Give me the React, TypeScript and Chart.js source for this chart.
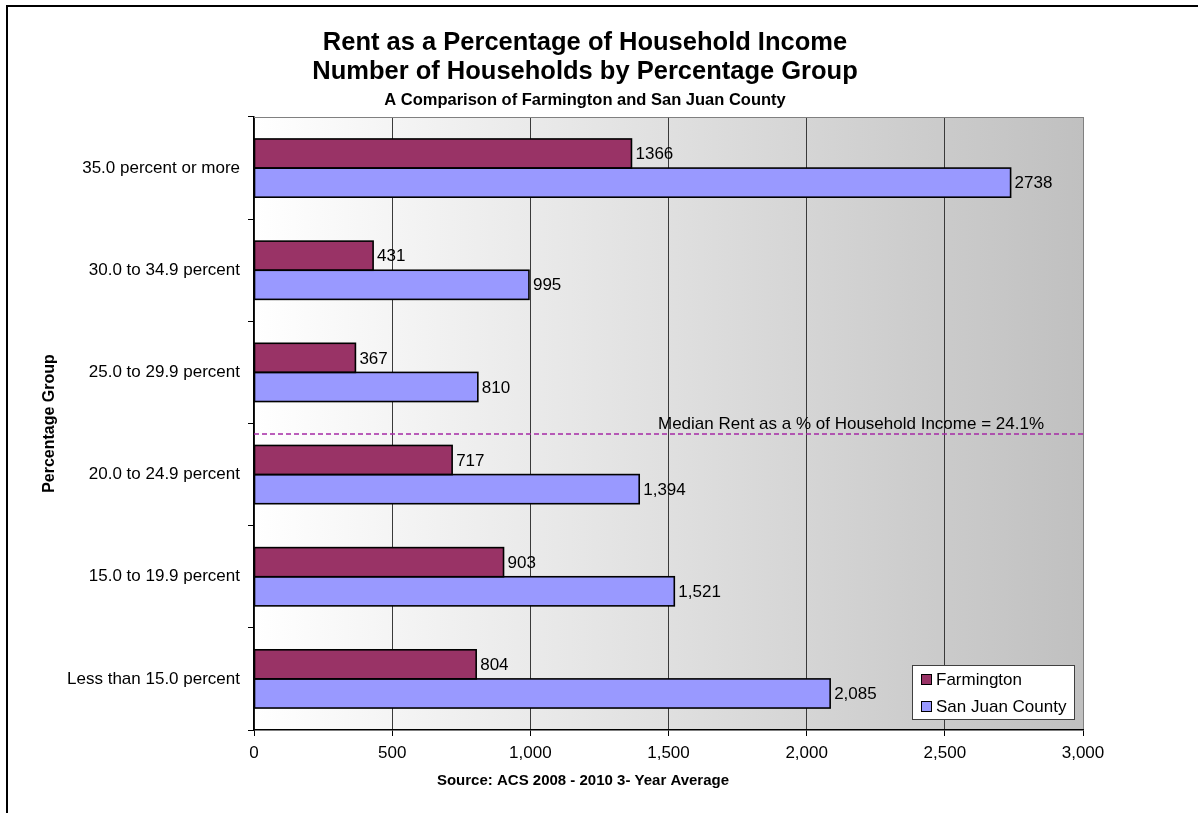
import React, { useEffect, useRef } from 'react';
import { Chart, registerables } from 'chart.js';

Chart.register(...registerables);

const categories = [
  '35.0 percent or more',
  '30.0 to 34.9 percent',
  '25.0 to 29.9 percent',
  '20.0 to 24.9 percent',
  '15.0 to 19.9 percent',
  'Less than 15.0 percent',
];
const farmington = [1366, 431, 367, 717, 903, 804];
const sanJuan = [2738, 995, 810, 1394, 1521, 2085];
const farmingtonLabels = ['1366', '431', '367', '717', '903', '804'];
const sanJuanLabels = ['2738', '995', '810', '1,394', '1,521', '2,085'];
const seriesNames = ['Farmington', 'San Juan County'];
const seriesColors = ['#993366', '#9999ff'];
const xMin = 0;
const xMax = 3000;
const xStep = 500;
const titleLines = ['Rent as a Percentage of Household Income', 'Number of Households by Percentage Group'];
const subtitle = 'A Comparison of Farmington and San Juan County';
const xTitle = 'Source: ACS 2008 - 2010 3- Year Average';
const yTitle = 'Percentage Group';
const medianText = 'Median Rent as a % of Household Income = 24.1%';
const medianCategoryPosition = 2.6;

const FONT = "'Liberation Sans', Arial, Helvetica, sans-serif";
const TEXT_SIZE = 17;

const drawPlugin = {
  id: 'excelStyle',
  beforeDraw(chart: any) {
    const { ctx, chartArea: a } = chart;
    ctx.save();
    ctx.fillStyle = '#ffffff';
    ctx.fillRect(0, 0, chart.width, chart.height);
    const g = ctx.createLinearGradient(a.left, 0, a.right, 0);
    g.addColorStop(0, '#ffffff');
    g.addColorStop(1, '#c0c0c0');
    ctx.fillStyle = g;
    ctx.fillRect(a.left, a.top, a.right - a.left, a.bottom - a.top);
    ctx.restore();
  },
  afterDatasetsDraw(chart: any) {
    const { ctx, chartArea: a } = chart;
    ctx.save();
    // top border of plot
    ctx.strokeStyle = '#808080';
    ctx.lineWidth = 1;
    ctx.beginPath();
    ctx.moveTo(a.left, a.top + 0.5);
    ctx.lineTo(a.right, a.top + 0.5);
    ctx.stroke();

    // bar outlines (centred on the edges, like the original)
    ctx.strokeStyle = '#000';
    ctx.lineWidth = 1.6;
    chart.data.datasets.forEach((_: any, di: number) => {
      const meta = chart.getDatasetMeta(di);
      meta.data.forEach((el: any) => {
        const p = el.getProps(['x', 'y', 'base', 'height'], true);
        const l = Math.min(p.base, p.x);
        const r = Math.max(p.base, p.x);
        const t = p.y - p.height / 2;
        ctx.strokeRect(l, t, r - l, p.height);
      });
    });

    // data labels
    ctx.fillStyle = '#000';
    ctx.font = `${TEXT_SIZE}px ${FONT}`;
    ctx.textAlign = 'left';
    ctx.textBaseline = 'middle';
    const labelSets = [farmingtonLabels, sanJuanLabels];
    chart.data.datasets.forEach((_: any, di: number) => {
      const meta = chart.getDatasetMeta(di);
      meta.data.forEach((el: any, i: number) => {
        ctx.fillText(labelSets[di][i], el.x + 4, el.y + 1);
      });
    });

    // median line
    const yScale = chart.scales.y;
    const my = Math.round(yScale.getPixelForValue(medianCategoryPosition));
    ctx.strokeStyle = '#a52aa5';
    ctx.lineWidth = 1.5;
    ctx.setLineDash([5, 3]);
    ctx.beginPath();
    ctx.moveTo(a.left, my);
    ctx.lineTo(a.right, my);
    ctx.stroke();
    ctx.setLineDash([]);
    ctx.fillStyle = '#000';
    ctx.textAlign = 'right';
    ctx.textBaseline = 'middle';
    ctx.font = `${TEXT_SIZE}px ${FONT}`;
    ctx.fillText(medianText, a.right - 39, my - 10);
    ctx.restore();
  },
  afterDraw(chart: any) {
    const { ctx, chartArea: a } = chart;
    ctx.save();
    const cx = 585;
    ctx.fillStyle = '#000';
    ctx.textAlign = 'center';
    ctx.textBaseline = 'middle';
    ctx.font = `bold 25.5px ${FONT}`;
    ctx.fillText(titleLines[0], cx, 43);
    ctx.fillText(titleLines[1], cx, 72);
    ctx.font = `bold 16.5px ${FONT}`;
    ctx.fillText(subtitle, cx, 100);

    ctx.font = `bold 15px ${FONT}`;
    ctx.fillText(xTitle, 583, 781);
    ctx.font = `bold 16px ${FONT}`;
    ctx.save();
    ctx.translate(50, (a.top + a.bottom) / 2);
    ctx.rotate(-Math.PI / 2);
    ctx.fillText(yTitle, 0, 0);
    ctx.restore();

    // legend
    const lx = 912, ly = 665, lw = 162, lh = 54;
    ctx.fillStyle = '#ffffff';
    ctx.fillRect(lx, ly, lw, lh);
    ctx.strokeStyle = '#404040';
    ctx.lineWidth = 1;
    ctx.strokeRect(lx + 0.5, ly + 0.5, lw, lh);
    ctx.font = `${TEXT_SIZE}px ${FONT}`;
    ctx.textAlign = 'left';
    ctx.textBaseline = 'middle';
    seriesNames.forEach((name, i) => {
      const yy = ly + 14 + i * 27;
      ctx.fillStyle = seriesColors[i];
      ctx.fillRect(lx + 9, yy - 5, 10, 10);
      ctx.strokeStyle = '#000';
      ctx.strokeRect(lx + 9.5, yy - 4.5, 10, 10);
      ctx.fillStyle = '#000';
      ctx.fillText(name, lx + 24, yy + 1);
    });
    ctx.restore();
  },
};

export default function App() {
  const ref = useRef<HTMLCanvasElement>(null);

  useEffect(() => {
    if (!ref.current) return;
    const chart = new Chart(ref.current, {
      type: 'bar',
      data: {
        labels: categories,
        datasets: [
          {
            label: seriesNames[0],
            data: farmington,
            backgroundColor: seriesColors[0],
            borderWidth: 0,
            categoryPercentage: 0.57,
            barPercentage: 1,
          },
          {
            label: seriesNames[1],
            data: sanJuan,
            backgroundColor: seriesColors[1],
            borderWidth: 0,
            categoryPercentage: 0.57,
            barPercentage: 1,
          },
        ],
      },
      options: {
        indexAxis: 'y',
        responsive: false,
        animation: false,
        devicePixelRatio: 1,
        layout: { padding: { left: 0, top: 117, right: 115, bottom: 0 } },
        plugins: {
          legend: { display: false },
          title: { display: false },
          tooltip: { enabled: false },
        },
        scales: {
          x: {
            type: 'linear',
            min: xMin,
            max: xMax,
            ticks: {
              stepSize: xStep,
              color: '#000',
              font: { family: FONT, size: TEXT_SIZE },
              padding: 7,
              callback: (v: any) => Number(v).toLocaleString('en-US'),
            },
            grid: {
              color: (c: any) => (c.tick && c.tick.value === xMax ? '#808080' : '#3a3a3a'),
              tickColor: '#000',
              tickLength: 6,
              lineWidth: 1,
            },
            border: { display: true, color: '#000', width: 1.5 },
            afterFit: (s: any) => {
              s.height = 83;
            },
          },
          y: {
            type: 'category',
            ticks: {
              color: '#000',
              font: { family: FONT, size: TEXT_SIZE },
              padding: 8,
            },
            grid: {
              offset: true,
              drawOnChartArea: false,
              tickColor: '#000',
              tickLength: 6,
            },
            border: { display: true, color: '#000', width: 1.5 },
            afterFit: (s: any) => {
              s.width = 254;
            },
          },
        },
      },
      plugins: [drawPlugin],
    });
    return () => chart.destroy();
  }, []);

  return (
    <div style={{ position: 'fixed', left: 0, top: 0, width: 1198, height: 813, overflow: 'hidden', background: '#fff' }}>
      <canvas ref={ref} width={1198} height={813} style={{ position: 'absolute', left: 0, top: 0, width: 1198, height: 813 }} />
      <div
        style={{
          position: 'absolute',
          left: 6,
          top: 5,
          width: 1400,
          height: 1200,
          border: '2px solid #000',
          pointerEvents: 'none',
        }}
      />
    </div>
  );
}
